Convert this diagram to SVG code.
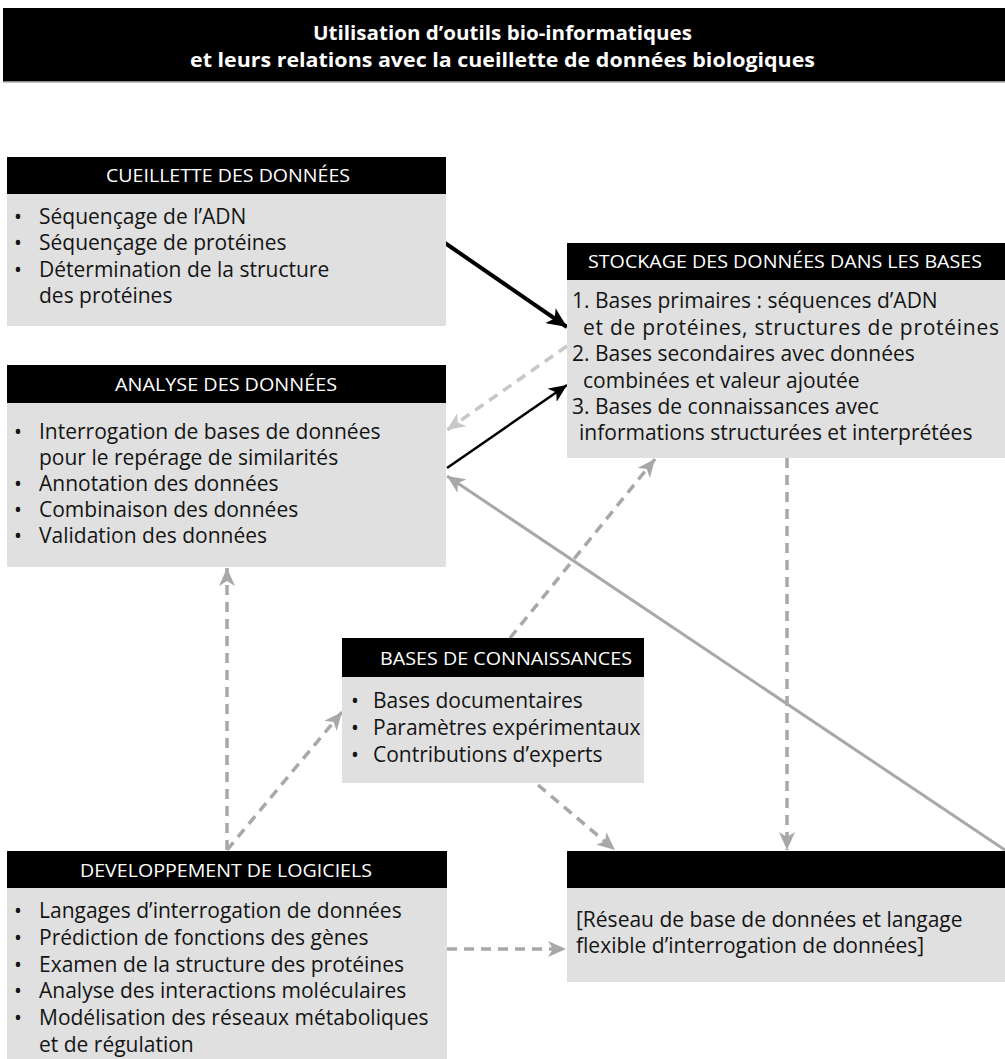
<svg xmlns="http://www.w3.org/2000/svg" width="1005" height="1059" viewBox="0 0 1005 1059">
<defs>
<style>
.hdr{fill:#000}
.body{fill:#e0e0e0}
.ht{font-family:"Open Sans","Noto Sans",sans-serif;font-size:17.5px;fill:#fff;text-anchor:middle}
.bt{font-family:"Open Sans","Noto Sans",sans-serif;font-size:21px;fill:#141414}
.title{font-family:"Open Sans","Noto Sans",sans-serif;font-size:20px;font-weight:bold;fill:#fff;text-anchor:middle}
.blk{stroke:#000;fill:none}
.lg{stroke:#c8c8c8;fill:none;stroke-width:3.5;stroke-dasharray:10 7}
.dg{stroke:#a8a8a8;fill:none;stroke-width:3.5;stroke-dasharray:10 7}
.sg{stroke:#a8a8a8;fill:none;stroke-width:3}
</style>
<marker id="mBlk" markerUnits="userSpaceOnUse" markerWidth="20" markerHeight="18" refX="20" refY="9" orient="auto" viewBox="0 0 20 18">
<path d="M0,0 L20,9 L0,18 L5,9 z" fill="#000"/>
</marker>
<marker id="mBlk2" markerUnits="userSpaceOnUse" markerWidth="18" markerHeight="16" refX="18" refY="8" orient="auto" viewBox="0 0 18 16">
<path d="M0,0 L18,8 L0,16 L5,8 z" fill="#000"/>
</marker>
<marker id="mLg" markerUnits="userSpaceOnUse" markerWidth="18" markerHeight="16" refX="18" refY="8" orient="auto" viewBox="0 0 18 16">
<path d="M0,0 L18,8 L0,16 L5,8 z" fill="#c8c8c8"/>
</marker>
<marker id="mDg" markerUnits="userSpaceOnUse" markerWidth="18" markerHeight="16" refX="18" refY="8" orient="auto" viewBox="0 0 18 16">
<path d="M0,0 L18,8 L0,16 L5,8 z" fill="#a8a8a8"/>
</marker>
</defs>
<rect x="0" y="0" width="1005" height="1059" fill="#fff"/>

<g id="title">
<rect x="3" y="8" width="1002" height="73" fill="#000"/>
<rect x="3" y="81" width="1002" height="1.5" fill="#888"/>
<text class="title" x="502.5" y="40" textLength="379" lengthAdjust="spacingAndGlyphs">Utilisation d’outils bio-informatiques</text>
<text class="title" x="502.5" y="67" textLength="625" lengthAdjust="spacingAndGlyphs">et leurs relations avec la cueillette de données biologiques</text>
</g>

<g id="connectors">
<line class="blk" x1="445" y1="243" x2="567" y2="327" stroke-width="4" marker-end="url(#mBlk)"/>
<line class="lg" x1="567" y1="346" x2="447" y2="430" marker-end="url(#mLg)"/>
<line class="blk" x1="447" y1="468" x2="567" y2="385" stroke-width="2.5" marker-end="url(#mBlk2)"/>
<line class="sg" x1="1005" y1="850" x2="447" y2="476" marker-end="url(#mDg)"/>
<line class="dg" x1="510" y1="638" x2="655" y2="459" marker-end="url(#mDg)"/>
<line class="dg" x1="787" y1="458" x2="787" y2="850" marker-end="url(#mDg)"/>
<line class="dg" x1="538" y1="785" x2="615" y2="850" marker-end="url(#mDg)"/>
<line class="dg" x1="227" y1="850" x2="227" y2="568" marker-end="url(#mDg)"/>
<line class="dg" x1="227" y1="850" x2="342" y2="712" marker-end="url(#mDg)"/>
<line class="dg" x1="447" y1="949" x2="566" y2="949" marker-end="url(#mDg)"/>
</g>

<g id="cueillette">
<rect class="body" x="7" y="194" width="439" height="132"/>
<rect class="hdr" x="7" y="157" width="439" height="37"/>
<text class="ht" x="228" y="182" textLength="244" lengthAdjust="spacingAndGlyphs">CUEILLETTE DES DONNÉES</text>
<text class="bt" x="14" y="224">•</text><text class="bt" x="39" y="224">Séquençage de l’ADN</text>
<text class="bt" x="14" y="250">•</text><text class="bt" x="39" y="250">Séquençage de protéines</text>
<text class="bt" x="14" y="277">•</text><text class="bt" x="39" y="277">Détermination de la structure</text>
<text class="bt" x="39" y="303">des protéines</text>
</g>

<g id="stockage">
<rect class="body" x="567" y="280" width="438" height="178"/>
<rect class="hdr" x="567" y="243" width="438" height="37"/>
<text class="ht" x="785" y="268" textLength="394" lengthAdjust="spacingAndGlyphs">STOCKAGE DES DONNÉES DANS LES BASES</text>
<text class="bt" x="572" y="308">1. Bases primaires : séquences d’ADN</text>
<text class="bt" x="583" y="335" textLength="416" lengthAdjust="spacing">et de protéines, structures de protéines</text>
<text class="bt" x="572" y="361">2. Bases secondaires avec données</text>
<text class="bt" x="583" y="388">combinées et valeur ajoutée</text>
<text class="bt" x="572" y="414">3. Bases de connaissances avec</text>
<text class="bt" x="579" y="440">informations structurées et interprétées</text>
</g>

<g id="analyse">
<rect class="body" x="7" y="403" width="439" height="164"/>
<rect class="hdr" x="7" y="365" width="439" height="38"/>
<text class="ht" x="226" y="391" textLength="222" lengthAdjust="spacingAndGlyphs">ANALYSE DES DONNÉES</text>
<text class="bt" x="14" y="439">•</text><text class="bt" x="39" y="439">Interrogation de bases de données</text>
<text class="bt" x="39" y="465">pour le repérage de similarités</text>
<text class="bt" x="14" y="491">•</text><text class="bt" x="39" y="491">Annotation des données</text>
<text class="bt" x="14" y="517">•</text><text class="bt" x="39" y="517">Combinaison des données</text>
<text class="bt" x="14" y="543">•</text><text class="bt" x="39" y="543">Validation des données</text>
</g>

<g id="connaissances">
<rect class="body" x="342" y="677" width="302" height="106"/>
<rect class="hdr" x="342" y="638" width="302" height="39"/>
<text class="ht" x="506" y="665" textLength="252" lengthAdjust="spacingAndGlyphs">BASES DE CONNAISSANCES</text>
<text class="bt" x="351" y="708">•</text><text class="bt" x="373" y="708">Bases documentaires</text>
<text class="bt" x="351" y="735">•</text><text class="bt" x="373" y="735">Paramètres expérimentaux</text>
<text class="bt" x="351" y="762">•</text><text class="bt" x="373" y="762">Contributions d’experts</text>
</g>

<g id="logiciels">
<rect class="body" x="7" y="888" width="440" height="171"/>
<rect class="hdr" x="7" y="851" width="440" height="37"/>
<text class="ht" x="226" y="877" textLength="292" lengthAdjust="spacingAndGlyphs">DEVELOPPEMENT DE LOGICIELS</text>
<text class="bt" x="14" y="918">•</text><text class="bt" x="39" y="918">Langages d’interrogation de données</text>
<text class="bt" x="14" y="945">•</text><text class="bt" x="39" y="945">Prédiction de fonctions des gènes</text>
<text class="bt" x="14" y="972">•</text><text class="bt" x="39" y="972">Examen de la structure des protéines</text>
<text class="bt" x="14" y="998">•</text><text class="bt" x="39" y="998">Analyse des interactions moléculaires</text>
<text class="bt" x="14" y="1025">•</text><text class="bt" x="39" y="1025">Modélisation des réseaux métaboliques</text>
<text class="bt" x="39" y="1052">et de régulation</text>
</g>

<g id="reseau">
<rect class="body" x="567" y="888" width="438" height="94"/>
<rect class="hdr" x="567" y="851" width="438" height="37"/>
<text class="bt" x="576" y="927">[Réseau de base de données et langage</text>
<text class="bt" x="576" y="953">flexible d’interrogation de données]</text>
</g>
</svg>
